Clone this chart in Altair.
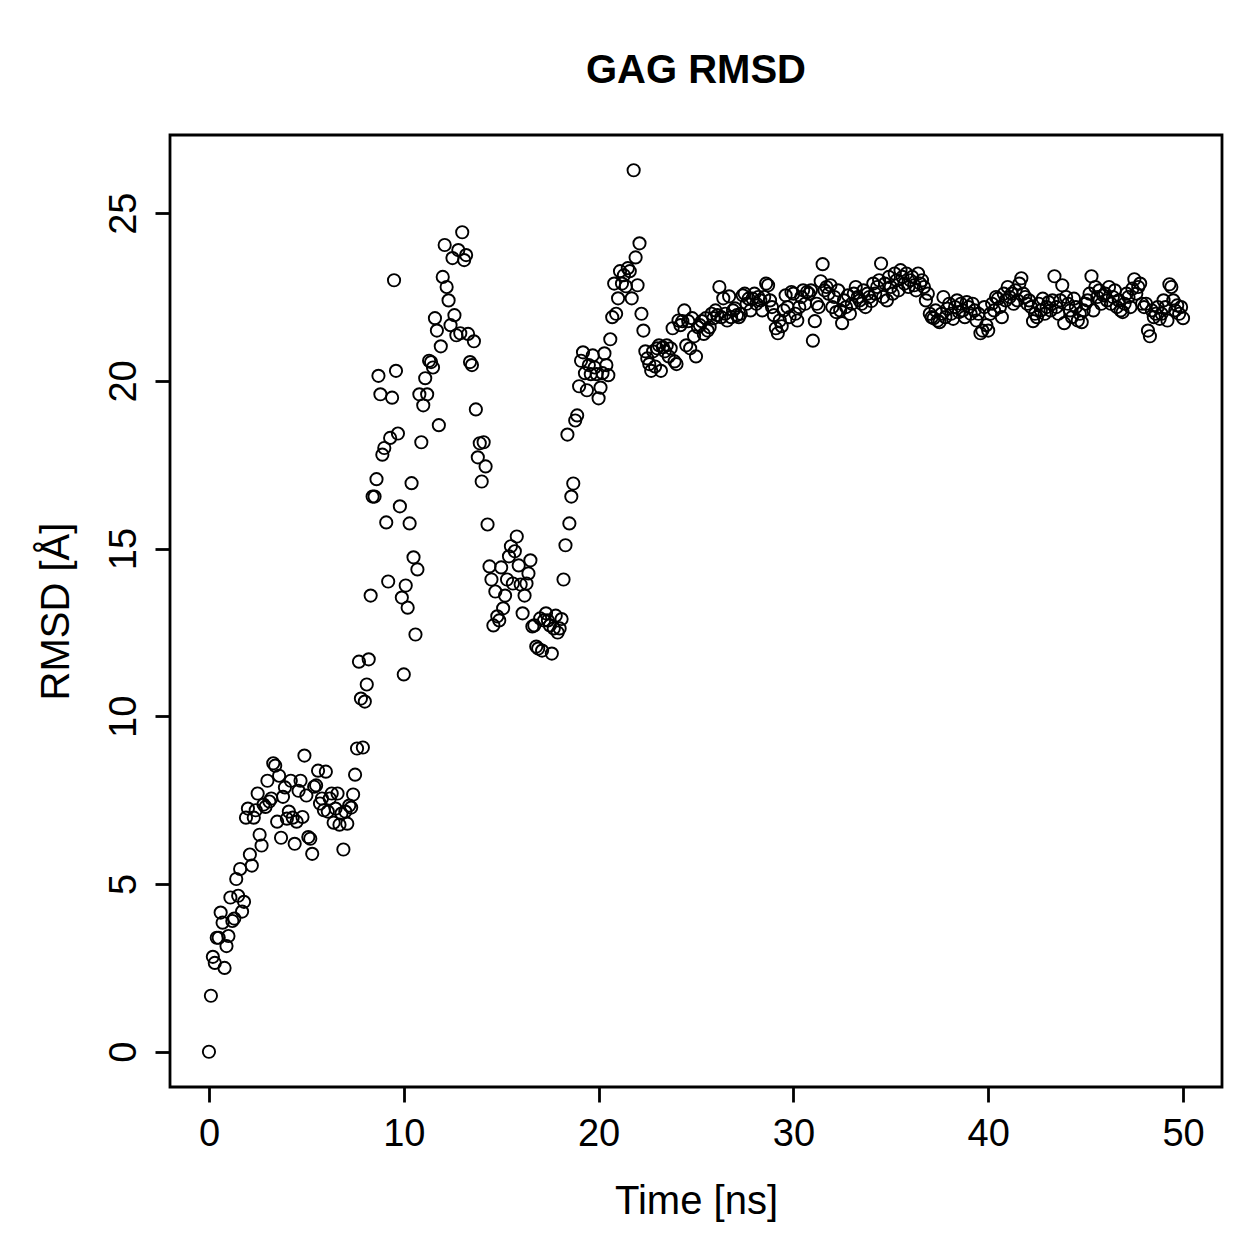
import altair as alt
import numpy as np
import pandas as pd

rmsd_00_10 = [
    0, 1.67, 2.83, 2.65, 3.4, 3.4, 4.15, 3.85, 2.5, 3.15,
    3.45, 4.6, 3.9, 3.97, 5.15, 4.65, 5.45, 4.18, 4.47, 6.98,
    7.25, 5.88, 5.55, 6.98, 7.2, 7.7, 6.47, 6.15, 7.37, 7.3,
    8.08, 7.46, 7.55, 8.6, 8.53, 6.86, 8.23, 6.38, 7.6, 7.88,
    6.95, 7.16, 8.08, 6.98, 6.2, 6.86, 7.78, 8.08, 7.0, 8.83,
    7.64, 6.4, 6.35, 5.9, 7.9, 7.94, 8.38, 7.4, 7.55, 7.2,
    8.35, 7.16, 7.55, 7.7, 6.83, 7.25, 7.7, 6.77, 7.1, 6.03,
    7.16, 6.8, 7.34, 7.28, 7.67, 8.26, 9.04, 11.63, 10.53, 9.07,
    10.44, 10.95, 11.7, 13.6, 16.55, 16.55, 17.07, 20.15, 19.6, 17.8,
    18.0, 15.78, 14.02, 18.3, 19.5, 23.0, 20.3, 18.43, 16.26, 13.54,
]
rmsd_10_20 = [
    11.25, 13.9, 13.24, 15.75, 16.95, 14.74, 12.44, 14.38, 19.6, 18.17,
    19.27, 20.08, 19.6, 20.6, 20.56, 20.4, 21.87, 21.5, 18.68, 21.03,
    23.1, 24.05, 22.8, 22.4, 21.66, 23.66, 21.96, 21.36, 23.9, 21.42,
    24.43, 23.6, 23.75, 21.4, 20.56, 20.47, 21.18, 19.15, 17.72, 18.14,
    17.0, 18.17, 17.45, 15.72, 14.47, 14.08, 12.71, 13.72, 12.98, 12.86,
    14.44, 13.22, 13.6, 14.08, 14.77, 15.07, 13.96, 14.92, 15.36, 14.5,
    13.93, 13.07, 13.6, 13.96, 14.26, 14.65, 12.68, 12.71, 12.08, 12.02,
    12.92, 11.96, 12.86, 13.07, 12.86, 12.71, 11.87, 12.62, 13.0, 12.5,
    12.62, 12.9, 14.08, 15.1, 18.4, 15.75, 16.55, 16.94, 18.82, 18.97,
    19.84, 20.6, 20.85, 20.23, 19.72, 20.47, 20.2, 20.76, 20.4, 20.2,
]
rmsd_20_30 = [
    19.48, 19.8, 20.23, 20.82, 20.47, 20.17, 21.24, 21.9, 22.9, 22.0,
    22.46, 23.27, 22.9, 23.15, 22.82, 23.36, 23.27, 22.46, 26.28, 23.68,
    22.85, 24.1, 22.0, 21.5, 20.88, 20.67, 20.5, 20.3, 20.88, 20.43,
    20.97, 21.06, 20.3, 21.0, 20.88, 21.06, 20.73, 20.97, 21.57, 20.58,
    20.5, 21.8, 21.66, 21.78, 22.1, 21.06, 21.78, 20.97, 21.87, 21.33,
    20.73, 21.6, 21.66, 21.78, 21.4, 21.87, 21.5, 21.6, 22.0, 21.87,
    22.1, 21.96, 22.8, 21.9, 22.46, 22.0, 21.8, 22.52, 21.9, 22.1,
    22.16, 21.96, 21.9, 22.0, 22.55, 22.6, 22.3, 22.45, 22.1, 22.45,
    22.6, 22.3, 22.5, 22.4, 22.1, 22.5, 22.9, 22.85, 22.4, 22.2,
    21.96, 21.57, 21.42, 21.8, 21.63, 22.1, 22.55, 22.2, 21.9, 22.65,
]
rmsd_30_40 = [
    22.6, 22.0, 21.8, 22.2, 22.5, 22.7, 22.3, 22.65, 22.6, 22.7,
    21.2, 21.78, 22.3, 22.2, 22.97, 23.48, 22.7, 22.8, 22.6, 22.85,
    22.2, 22.5, 22.05, 22.7, 22.1, 21.72, 22.4, 22.2, 22.55, 22.0,
    22.3, 22.6, 22.8, 22.5, 22.4, 22.3, 22.7, 22.2, 22.6, 22.5,
    22.38, 22.9, 22.6, 22.8, 23.0, 23.5, 22.5, 22.9, 22.4, 23.1,
    22.8, 22.6, 23.2, 23.0, 22.7, 23.3, 23.1, 22.9, 23.2, 22.8,
    23.0, 23.1, 22.85, 22.7, 23.2, 22.9, 23.0, 22.8, 22.4, 22.6,
    22.0, 21.9, 21.87, 22.1, 21.8, 21.75, 22.0, 22.5, 21.9, 22.15,
    22.3, 22.0, 21.85, 22.2, 22.4, 22.05, 22.3, 22.1, 21.9, 22.35,
    22.2, 22.0, 22.3, 22.1, 21.8, 22.0, 21.42, 21.5, 22.2, 21.66,
]
rmsd_40_50 = [
    21.5, 22.0, 22.3, 22.1, 22.5, 22.45, 22.2, 21.9, 22.6, 22.4,
    22.8, 22.5, 22.6, 22.3, 22.7, 22.4, 22.9, 23.06, 22.6, 22.5,
    22.3, 22.4, 22.2, 21.78, 22.0, 21.9, 22.3, 22.1, 22.45, 22.0,
    22.2, 22.35, 22.1, 22.4, 23.12, 22.2, 22.0, 22.4, 22.85, 21.72,
    22.5, 22.3, 22.1, 21.9, 22.45, 22.2, 21.8, 22.0, 21.75, 22.1,
    22.3, 22.4, 22.6, 23.12, 22.1, 22.8, 22.5, 22.7, 22.3, 22.55,
    22.6, 22.4, 22.8, 22.3, 22.5, 22.7, 22.2, 22.4, 22.1, 22.05,
    22.3, 22.6, 22.5, 22.2, 22.75, 23.03, 22.6, 22.8, 22.9, 22.3,
    22.2, 22.3, 21.5, 21.33, 22.1, 21.9, 22.0, 22.2, 21.85, 22.0,
    22.4, 22.2, 21.8, 22.88, 22.8, 22.4, 22.1, 22.25, 22.0, 22.2,
    21.87,
]

x_ticks = [0, 10, 20, 30, 40, 50]
y_ticks = [0, 5, 10, 15, 20, 25]

rmsd = rmsd_00_10 + rmsd_10_20 + rmsd_20_30 + rmsd_30_40 + rmsd_40_50
time_ns = np.linspace(0, 50, len(rmsd))
df = pd.DataFrame({"time": time_ns, "rmsd": rmsd})

FONT = "Liberation Sans"

chart = (
    alt.Chart(df)
    .mark_point(shape="circle", filled=False, color="black", size=150, strokeWidth=1.9, opacity=1)
    .encode(
        x=alt.X(
            "time:Q",
            scale=alt.Scale(domain=[-2, 52], nice=False, zero=False),
            axis=alt.Axis(
                values=x_ticks, title="Time [ns]", labelBaseline="top", labelPadding=13,
                labelOverlap=False, labelFlush=False,
                titleX=526, titleY=126, titleBaseline="alphabetic", titleAlign="center",
            ),
        ),
        y=alt.Y(
            "rmsd:Q",
            scale=alt.Scale(domain=[-1.05, 27.33], nice=False, zero=False),
            axis=alt.Axis(
                values=y_ticks, title="RMSD [Å]", labelAngle=270, labelAlign="center",
                labelBaseline="alphabetic", labelPadding=20, labelOverlap=False, labelFlush=False,
                titleAngle=270, titleX=-102, titleY=476, titleBaseline="alphabetic", titleAlign="center",
            ),
        ),
    )
    .properties(
        width=1052,
        height=952,
        title=alt.TitleParams("GAG RMSD", fontSize=40, fontWeight="bold", font=FONT,
                              color="black", anchor="middle", offset=44),
        autosize=alt.AutoSizeParams(type="none"),
        padding={"left": 170, "top": 135, "right": 37, "bottom": 172},
    )
    .configure_view(stroke="black", strokeWidth=2.8)
    .configure_axis(
        domain=False, grid=False, ticks=True, tickSize=15, tickWidth=2.8, tickColor="black",
        labelFont=FONT, labelFontSize=38, labelColor="black",
        titleFont=FONT, titleFontSize=40, titleFontWeight="normal", titleColor="black",
    )
)

chart.save("out.html", embed_options={"renderer": "svg", "actions": False})
